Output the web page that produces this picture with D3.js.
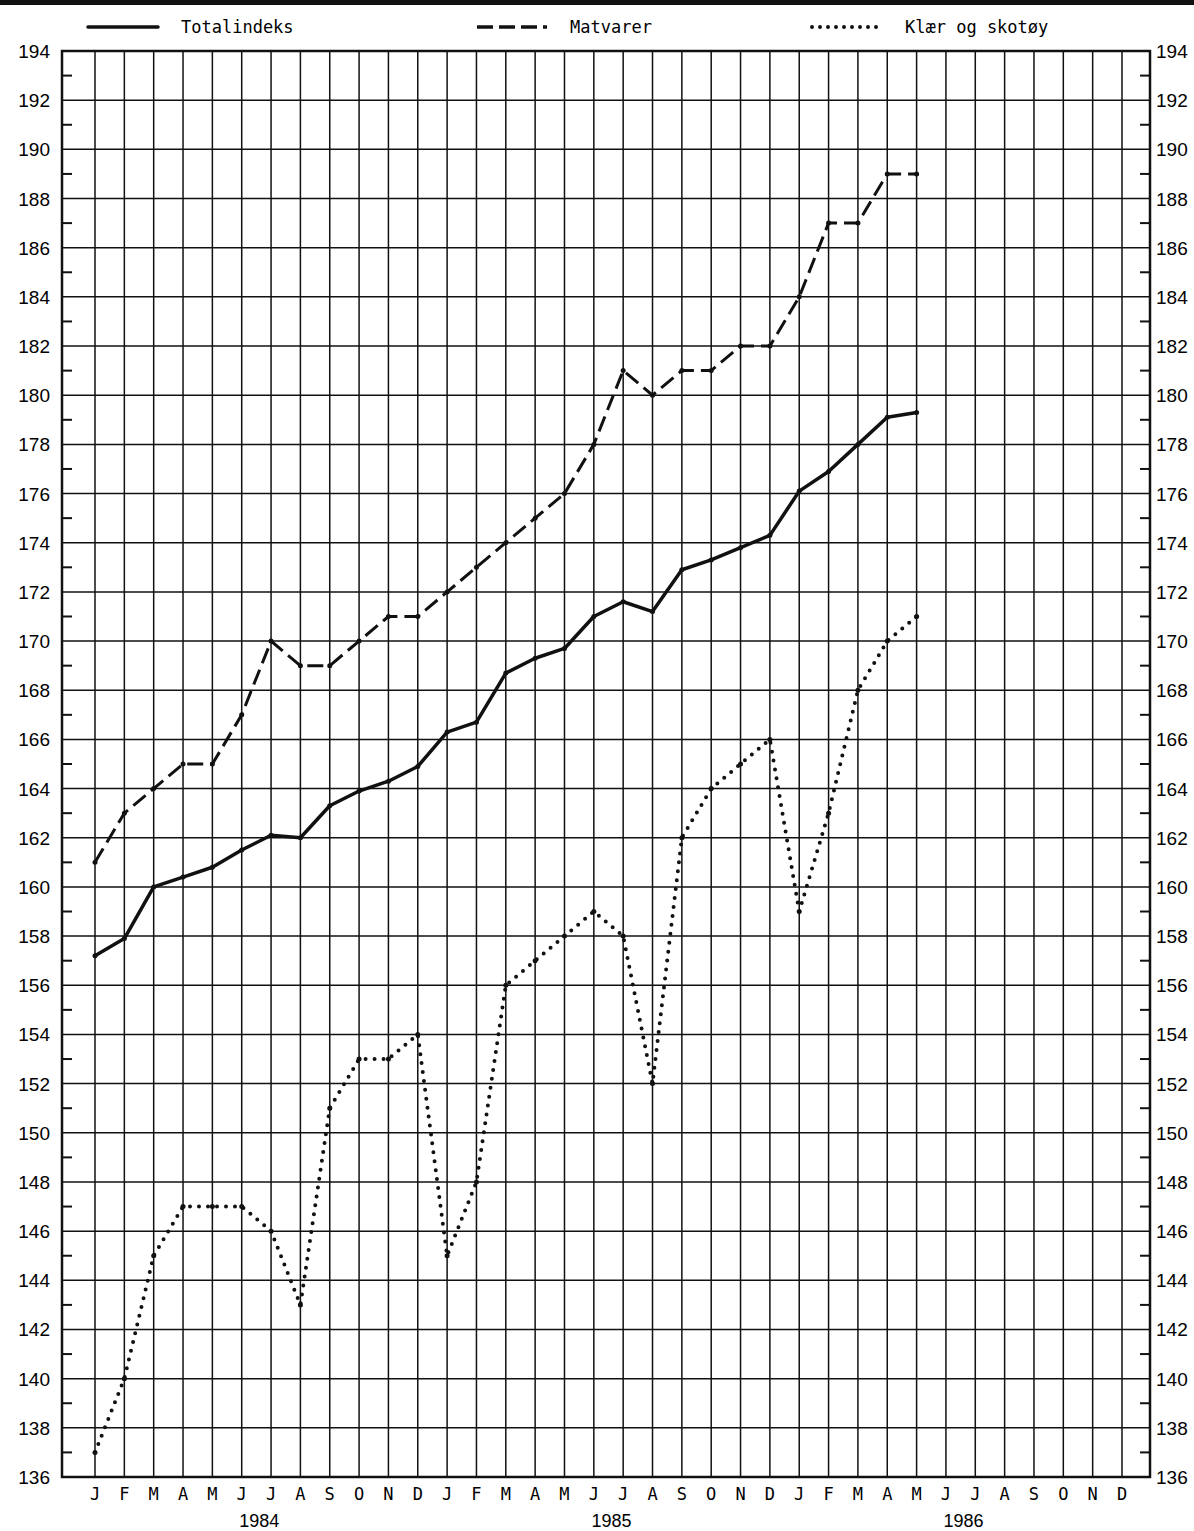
<!DOCTYPE html>
<html><head><meta charset="utf-8">
<script src="https://cdn.jsdelivr.net/npm/d3@7"></script>
<style>body{margin:0;background:#fff}</style>
</head><body><div id="chart"></div>
<script>
var monthLabels = ["J","F","M","A","M","J","J","A","S","O","N","D"];
var yearLabels = ["1984","1985","1986"];
var totalindeks = [157.2,157.9,160,160.4,160.8,161.5,162.1,162,163.3,163.9,164.3,164.9,
  166.3,166.7,168.7,169.3,169.7,171,171.6,171.2,172.9,173.3,173.8,174.3,
  176.1,176.9,178,179.1,179.3];
var matvarer = [161,163,164,165,165,167,170,169,169,170,171,171,
  172,173,174,175,176,178,181,180,181,181,182,182,
  184,187,187,189,189];
var klaer = [137,140,145,147,147,147,146,143,151,153,153,154,
  145,148,156,157,158,159,158,152,162,164,165,166,
  159,163,168,170,171];

var width = 1194, height = 1531;
var svg = d3.select("#chart").append("svg").attr("width", width).attr("height", height);

var x = d3.scaleLinear().domain([0, 35]).range([95, 1122]);
var y = d3.scaleLinear().domain([136, 194]).range([1477, 51]);
var left = 62, right = 1150;

// top rule
svg.append("rect").attr("x", 0).attr("y", 0).attr("width", width).attr("height", 5).attr("fill", "#111");

var g = svg.append("g");
// horizontal grid
d3.range(136, 195, 2).forEach(function (v) {
  g.append("line").attr("x1", left).attr("x2", right).attr("y1", y(v)).attr("y2", y(v))
    .attr("stroke", "#111").attr("stroke-width", 1.5);
});
// minor ticks
d3.range(137, 194, 2).forEach(function (v) {
  g.append("line").attr("x1", left).attr("x2", left + 10).attr("y1", y(v)).attr("y2", y(v)).attr("stroke", "#111").attr("stroke-width", 2);
  g.append("line").attr("x1", right - 10).attr("x2", right).attr("y1", y(v)).attr("y2", y(v)).attr("stroke", "#111").attr("stroke-width", 2);
});
// vertical grid
d3.range(0, 36).forEach(function (i) {
  g.append("line").attr("x1", x(i)).attr("x2", x(i)).attr("y1", y(194)).attr("y2", y(136))
    .attr("stroke", "#111").attr("stroke-width", 1.5);
});
g.append("rect").attr("x", left).attr("y", y(194)).attr("width", right - left).attr("height", y(136) - y(194))
  .attr("fill", "none").attr("stroke", "#111").attr("stroke-width", 2.5);

// y labels
d3.range(136, 195, 2).forEach(function (v) {
  g.append("text").attr("x", 50).attr("y", y(v) + 7).attr("text-anchor", "end")
    .attr("font-family", "Liberation Sans, Arial").attr("font-size", 19).text(v);
  g.append("text").attr("x", 1156).attr("y", y(v) + 7)
    .attr("font-family", "Liberation Sans, Arial").attr("font-size", 19).text(v);
});
// x labels
d3.range(0, 36).forEach(function (i) {
  g.append("text").attr("x", x(i)).attr("y", 1500).attr("text-anchor", "middle")
    .attr("font-family", "DejaVu Sans Mono").attr("font-size", 17).text(monthLabels[i % 12]);
});
yearLabels.forEach(function (yr, k) {
  g.append("text").attr("x", x(k * 12 + 5.6)).attr("y", 1527).attr("text-anchor", "middle")
    .attr("font-family", "Liberation Sans, Arial").attr("font-size", 18).text(yr);
});

var line = d3.line().x(function (d, i) { return x(i); }).y(function (d) { return y(d); });

svg.append("path").attr("d", line(matvarer)).attr("fill", "none").attr("stroke", "#111")
  .attr("stroke-width", 3).attr("stroke-dasharray", "16,7");
svg.append("path").attr("d", line(totalindeks)).attr("fill", "none").attr("stroke", "#111")
  .attr("stroke-width", 3.5).attr("stroke-linejoin", "round");
svg.append("path").attr("d", line(klaer)).attr("fill", "none").attr("stroke", "#111")
  .attr("stroke-width", 4).attr("stroke-linecap", "round").attr("stroke-dasharray", "0,9");
[totalindeks, matvarer, klaer].forEach(function (s) {
  svg.selectAll(null).data(s).enter().append("circle")
    .attr("cx", function (d, i) { return x(i); }).attr("cy", function (d) { return y(d); })
    .attr("r", 2.5).attr("fill", "#111");
});

// legend
var legend = [
  {name: "Totalindeks", x: 88, dash: null, w: 3.5, cap: "round"},
  {name: "Matvarer", x: 477, dash: "16,6", w: 3.5, cap: "butt"},
  {name: "Klær og skotøy", x: 812, dash: "0,8", w: 4, cap: "round"}
];
legend.forEach(function (l) {
  var ln = svg.append("line").attr("x1", l.x).attr("x2", l.x + 70).attr("y1", 27).attr("y2", 27)
    .attr("stroke", "#111").attr("stroke-width", l.w).attr("stroke-linecap", l.cap);
  if (l.dash) ln.attr("stroke-dasharray", l.dash);
  svg.append("text").attr("x", l.x + 93).attr("y", 33).attr("font-family", "DejaVu Sans Mono")
    .attr("font-size", 17).text(l.name);
});
</script></body></html>
